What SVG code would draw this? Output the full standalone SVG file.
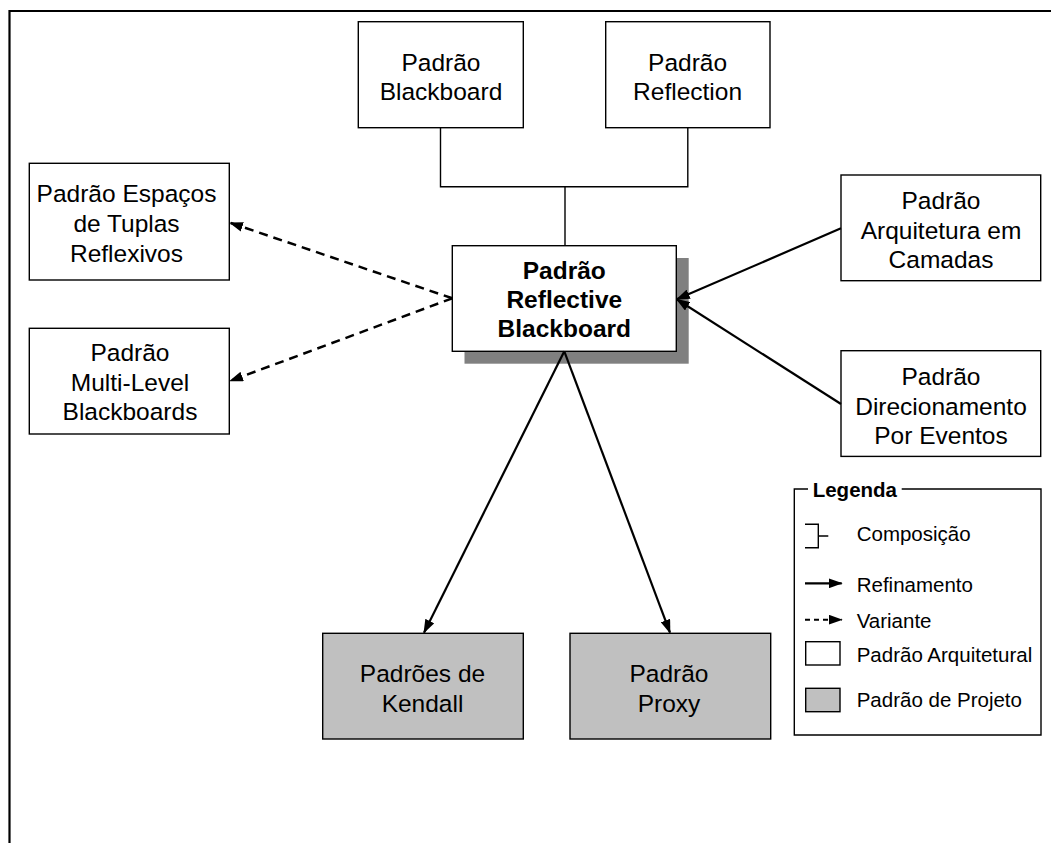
<svg xmlns="http://www.w3.org/2000/svg" width="1051" height="843" viewBox="0 0 1051 843">
  <style>
    .box { fill: #ffffff; stroke: #000000; stroke-width: 1.4; }
    .design { fill: #c0c0c0; stroke: #000000; stroke-width: 1.4; }
    .shadow { fill: #808080; stroke: none; }
    .lbl { font-family: "Liberation Sans", Arial, sans-serif; font-size: 24.5px; fill: #000000; text-anchor: middle; }
    .bold { font-weight: bold; }
    .leg { font-family: "Liberation Sans", Arial, sans-serif; font-size: 20.5px; fill: #000000; }
    .comp { fill: none; stroke: #000000; stroke-width: 1.4; }
    .refine { fill: none; stroke: #000000; stroke-width: 2.2; marker-end: url(#head); }
    .variant { fill: none; stroke: #000000; stroke-width: 2.5; stroke-dasharray: 9 6; marker-end: url(#head); }
  </style>
  <defs>
    <marker id="head" viewBox="0 0 14 10" refX="13" refY="5" markerWidth="14" markerHeight="10" markerUnits="userSpaceOnUse" orient="auto">
      <path d="M0,0 L14,5 L0,10 z" fill="#000000"/>
    </marker>
  </defs>

  <rect width="1051" height="843" fill="#ffffff"/>

  <!-- page frame: top and left edges -->
  <path d="M9.5,843 L9.5,11 L1051,11" fill="none" stroke="#000000" stroke-width="2.2"/>

  <g id="blackboard">
    <rect class="box" x="358.3" y="21.7" width="165" height="106"/>
    <text class="lbl" x="441" y="71">Padrão</text>
    <text class="lbl" x="441" y="100">Blackboard</text>
  </g>

  <g id="reflection">
    <rect class="box" x="605.7" y="21.7" width="164.3" height="106"/>
    <text class="lbl" x="687.6" y="71">Padrão</text>
    <text class="lbl" x="687.6" y="100">Reflection</text>
  </g>

  <g id="espacos-tuplas">
    <rect class="box" x="29.3" y="163.3" width="200" height="116.7"/>
    <text class="lbl" x="126.5" y="201.7">Padrão Espaços</text>
    <text class="lbl" x="126.5" y="231.7">de Tuplas</text>
    <text class="lbl" x="126.5" y="261.7">Reflexivos</text>
  </g>

  <g id="multi-level">
    <rect class="box" x="29.3" y="328.3" width="200" height="105.7"/>
    <text class="lbl" x="130" y="360.7">Padrão</text>
    <text class="lbl" x="130" y="390.7">Multi-Level</text>
    <text class="lbl" x="130" y="420">Blackboards</text>
  </g>

  <g id="reflective-blackboard">
    <rect class="shadow" x="464.5" y="258" width="224.2" height="105.7"/>
    <rect class="box" x="452.3" y="245.7" width="224" height="105.6"/>
    <text class="lbl bold" x="564.3" y="279.3">Padrão</text>
    <text class="lbl bold" x="564.3" y="308">Reflective</text>
    <text class="lbl bold" x="564.3" y="336.7">Blackboard</text>
  </g>

  <g id="camadas">
    <rect class="box" x="841" y="175" width="199.7" height="105.7"/>
    <text class="lbl" x="941" y="209.3">Padrão</text>
    <text class="lbl" x="941" y="239.3">Arquitetura em</text>
    <text class="lbl" x="941" y="268.3">Camadas</text>
  </g>

  <g id="eventos">
    <rect class="box" x="841" y="350.7" width="199.7" height="105.7"/>
    <text class="lbl" x="941" y="385">Padrão</text>
    <text class="lbl" x="941" y="415">Direcionamento</text>
    <text class="lbl" x="941" y="444">Por Eventos</text>
  </g>

  <g id="kendall">
    <rect class="design" x="322.7" y="633.3" width="200.6" height="105.7"/>
    <text class="lbl" x="422.5" y="682.3">Padrões de</text>
    <text class="lbl" x="422.5" y="711.7">Kendall</text>
  </g>

  <g id="proxy">
    <rect class="design" x="570" y="633.3" width="200.7" height="105.7"/>
    <text class="lbl" x="669" y="682.3">Padrão</text>
    <text class="lbl" x="669" y="711.7">Proxy</text>
  </g>

  <!-- connectors, drawn over the node shadow -->
  <g id="connectors">
    <!-- composition of Blackboard and Reflection -->
    <path class="comp" d="M440.5,128 V186.7 H687.8 V128 M565,186.7 V245.7"/>
    <!-- variants -->
    <line class="variant" x1="452.3" y1="298.3" x2="230" y2="222.7"/>
    <line class="variant" x1="452.3" y1="298.3" x2="230" y2="381"/>
    <!-- refinements into Reflective Blackboard -->
    <line class="refine" x1="841" y1="228.3" x2="676.7" y2="299.3"/>
    <line class="refine" x1="841" y1="404" x2="676.7" y2="299.3"/>
    <!-- refinements out of Reflective Blackboard -->
    <line class="refine" x1="564.3" y1="351.3" x2="424" y2="632.7"/>
    <line class="refine" x1="564.3" y1="351.3" x2="670" y2="632.7"/>
  </g>

  <g id="legend">
    <path d="M808,489 H794.3 V735 H1041 V489 H901.7" fill="none" stroke="#000000" stroke-width="1.4"/>
    <text class="leg bold" x="812.7" y="496.7">Legenda</text>
    <!-- composition symbol -->
    <path class="comp" d="M805,524.3 H818.3 V547.7 H805 M818.3,536 H828.3"/>
    <text class="leg" x="856.7" y="540.7">Composição</text>
    <!-- refinement symbol -->
    <line class="refine" x1="805" y1="583.3" x2="841.7" y2="583.3" stroke-width="2"/>
    <text class="leg" x="856.7" y="591.7">Refinamento</text>
    <!-- variant symbol -->
    <line x1="805" y1="619.7" x2="841.7" y2="619.7" fill="none" stroke="#000000" stroke-width="2" stroke-dasharray="5 4" marker-end="url(#head)"/>
    <text class="leg" x="856.7" y="627.7">Variante</text>
    <rect class="box" x="805.7" y="641.7" width="34.3" height="23.3"/>
    <text class="leg" x="856.7" y="661.5">Padrão Arquitetural</text>
    <rect class="design" x="805.7" y="688.3" width="34.3" height="23.4"/>
    <text class="leg" x="856.7" y="707.3">Padrão de Projeto</text>
  </g>
</svg>
